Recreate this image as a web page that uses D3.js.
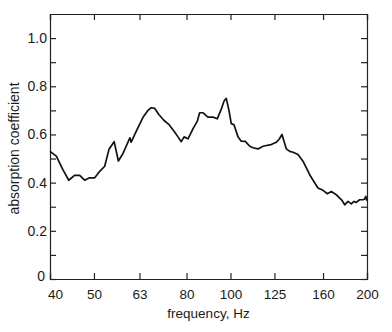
<!DOCTYPE html>
<html>
<head>
<meta charset="utf-8">
<script src="https://cdn.jsdelivr.net/npm/d3@7"></script>
<style>
  body { margin: 0; background: #fff; }
  text { font-family: "Liberation Sans", Arial, sans-serif; fill: #1a1a1a; }
</style>
</head>
<body>
<script>
// band centre frequencies shown on the axis (1/3 octave)
const freqTicks = [40, 50, 63, 80, 100, 125, 160, 200];
const yTicks = [0, 0.1, 0.2, 0.3, 0.4, 0.5, 0.6, 0.7, 0.8, 0.9, 1.0];
const yLabels = [0, 0.2, 0.4, 0.6, 0.8, 1.0];

const freq = [40, 41.3, 42.7, 44.0, 45.3, 46.5, 47.7, 48.9, 50.2, 51.5, 52.8, 54.0, 55.4, 56.6,
  57.9, 60.0, 60.4, 62.0, 64.1, 65.8, 66.9, 68.1, 69.5, 71.4, 73.1, 75.3, 76.6, 77.9, 79.0,
  80.6, 82.7, 84.5, 85.5, 87.0, 89.2, 91.5, 93.5, 95.4, 96.8, 97.9, 99.3, 100.4, 101.8, 103.9,
  105.6, 107.8, 110.3, 112.1, 115.0, 118.0, 120.0, 123.0, 126.2, 127.9, 129.9, 132.8, 135.1,
  137.4, 140.9, 144.5, 147.0, 149.5, 152.1, 155.9, 160.0, 163.5, 166.9, 171.1, 174.1, 176.2,
  178.6, 181.6, 184.7, 187.2, 189.4, 192.7, 196.0, 197.7, 198.7, 200];
const absorption = [0.53, 0.51, 0.454, 0.41, 0.43, 0.43, 0.41, 0.42, 0.42, 0.447, 0.468, 0.54, 0.57, 0.49,
  0.52, 0.586, 0.568, 0.614, 0.67, 0.70, 0.711, 0.708, 0.683, 0.658, 0.642, 0.61, 0.59, 0.57, 0.59,
  0.582, 0.624, 0.655, 0.69, 0.69, 0.672, 0.672, 0.665, 0.704, 0.739, 0.75, 0.697, 0.645, 0.64, 0.59,
  0.572, 0.571, 0.551, 0.545, 0.54, 0.551, 0.554, 0.558, 0.568, 0.579, 0.60, 0.54, 0.53, 0.526,
  0.517, 0.489, 0.461, 0.433, 0.41, 0.378, 0.368, 0.354, 0.363, 0.35, 0.336, 0.326, 0.308,
  0.322, 0.312, 0.322, 0.318, 0.329, 0.329, 0.332, 0.343, 0.325, 0.354];

const width = 392, height = 332;
const margin = { top: 14, right: 25, bottom: 53, left: 50 };

const x = d3.scaleLog()
    .domain([40, 200])
    .range([margin.left, width - margin.right]);

const y = d3.scaleLinear()
    .domain([0, 1.1])
    .range([height - margin.bottom, margin.top]);

const svg = d3.select("body").append("svg")
    .attr("width", width)
    .attr("height", height);

const tickLen = 6;

// bottom axis, ticks pointing inwards
const xAxis = svg.append("g")
    .attr("transform", `translate(0,${height - margin.bottom})`)
    .call(d3.axisBottom(x).tickValues(freqTicks).tickSize(-tickLen).tickPadding(tickLen + 4)
        .tickFormat(d3.format("d")));
xAxis.selectAll("text").style("font-size", "13.5px")
    .attr("dx", d => d === 40 ? 5 : 0);

// top axis (ticks only)
svg.append("g")
    .attr("transform", `translate(0,${margin.top})`)
    .call(d3.axisTop(x).tickValues(freqTicks).tickSize(-tickLen).tickFormat(""));

// left axis
const yAxis = svg.append("g")
    .attr("transform", `translate(${margin.left},0)`)
    .call(d3.axisLeft(y).tickValues(yTicks).tickSize(-tickLen).tickPadding(3)
        .tickFormat(d => yLabels.some(v => Math.abs(v - d) < 1e-9) ? (d === 0 ? "0" : d3.format(".1f")(d)) : ""));
yAxis.selectAll("text").style("font-size", "14px")
    .attr("dy", d => d === 0 ? "0.1em" : "0.32em")
    .attr("dx", d => d === 0 ? -2 : 0);

// right axis (ticks only)
svg.append("g")
    .attr("transform", `translate(${width - margin.right},0)`)
    .call(d3.axisRight(y).tickValues(yTicks).tickSize(-tickLen).tickFormat(""));

svg.selectAll(".domain").attr("stroke", "#222").attr("stroke-width", 1.2);
svg.selectAll(".tick line").attr("stroke", "#222").attr("stroke-width", 1.2);

// curve
const pts = freq.map((f, i) => [f, absorption[i]]);
svg.append("path")
    .datum(pts)
    .attr("fill", "none")
    .attr("stroke", "#111")
    .attr("stroke-width", 1.7)
    .attr("stroke-linejoin", "round")
    .attr("d", d3.line().x(d => x(d[0])).y(d => y(d[1])));

// axis titles
svg.append("text")
    .attr("x", (margin.left + width - margin.right) / 2)
    .attr("y", 318)
    .attr("text-anchor", "middle")
    .style("font-size", "13.5px")
    .text("frequency, Hz");

svg.append("text")
    .attr("transform", `translate(19,${(margin.top + height - margin.bottom) / 2 + 2}) rotate(-90)`)
    .attr("text-anchor", "middle")
    .style("font-size", "14px")
    .text("absorption coefficient");
</script>
</body>
</html>
